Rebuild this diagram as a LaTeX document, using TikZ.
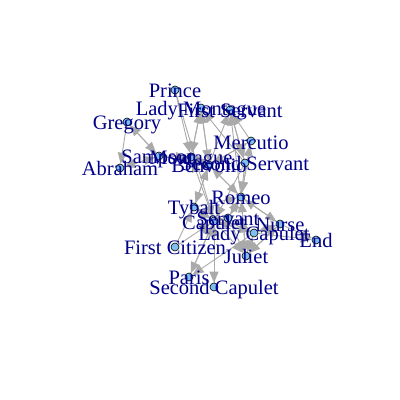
\documentclass[tikz,border=0pt]{standalone}
\usepackage{fontspec}
\setmainfont{Liberation Serif}
\usetikzlibrary{arrows.meta}
\definecolor{edgegray}{RGB}{170,170,170}
\definecolor{vfill}{RGB}{126,192,238}
\definecolor{labblue}{RGB}{0,0,139}
\pgfdeclarelayer{edgelayer}
\pgfsetlayers{edgelayer,main}
\tikzset{
 vtx/.style={circle, draw=black, fill=vfill, line width=0.6pt, minimum size=8pt, inner sep=0pt},
 lab/.style={text=labblue, font=\fontsize{20.5}{24}\selectfont, inner sep=0pt, anchor=base},
 edg/.style={draw=edgegray, line width=0.9pt, -{Triangle[length=11pt,width=9pt]}}
}
\begin{document}
\begin{tikzpicture}[x=1pt,y=1pt]
\useasboundingbox (0,0) rectangle (400,400);
% vertices
\node[vtx] (pr) at (175,310) {};
\node[vtx] (lm) at (201,292) {};
\node[vtx] (fs) at (230,290) {};
\node[vtx] (gr) at (127,278) {};
\node[vtx] (me) at (251,259) {};
\node[vtx] (sa) at (159,244) {};
\node[vtx] (mo) at (191,243) {};
\node[vtx] (ab) at (120,232) {};
\node[vtx] (be) at (209,235) {};
\node[vtx] (ss) at (245,237) {};
\node[vtx] (ro) at (241,203) {};
\node[vtx] (ty) at (194,193) {};
\node[vtx] (ca) at (214,179) {};
\node[vtx] (se) at (228,182) {};
\node[vtx] (nu) at (280,176) {};
\node[vtx] (lc) at (254,167) {};
\node[vtx] (en) at (316,160) {};
\node[vtx] (fc) at (175,153) {};
\node[vtx] (ju) at (246,144) {};
\node[vtx] (pa) at (189,123) {};
\node[vtx] (sc) at (214,113) {};
% edges
\begin{pgfonlayer}{edgelayer}
\fill[white] (0,0) rectangle (400,400);
\foreach \s/\t in {gr/sa, sa/gr, gr/ab, ab/sa, sa/ab, sa/be, be/ty, ty/be, fc/ca, fc/ty,
  ca/lc, lc/ca, ca/mo, mo/lm, lm/mo, pr/mo, pr/ca, mo/be, be/mo, be/lm, lm/be, be/ro, ro/be,
  ca/pa, pa/ca, lc/pa, ca/se, se/ro, ro/se, lc/nu, nu/lc, nu/ju, ju/nu, lc/ju, ju/lc,
  me/ro, ro/me, be/me, me/be, fs/ss, ss/fs, ca/sc, sc/ca, ro/ju, ju/ro, ty/ca, ca/ty, ty/ro,
  nu/en, lc/en, ro/fs, ss/ro, me/fs, ss/ca, ca/ju, se/ju, nu/ro, ro/nu, be/fs, sa/mo, ss/lm,
  se/lc, ty/lc}
  \draw[edg] (\s) -- (\t);
\end{pgfonlayer}
% labels
\node[lab] (lpr) at ([yshift=-8pt]pr.center) {Prince};
\node[lab] (llm) at ([yshift=-8pt]lm.center) {Lady Montague};
\node[lab] (lfs) at ([yshift=-8pt]fs.center) {First Servant};
\node[lab] (lgr) at ([yshift=-8pt]gr.center) {Gregory};
\node[lab] (lme) at ([yshift=-8pt]me.center) {Mercutio};
\node[lab] (lsa) at ([yshift=-8pt]sa.center) {Sampson};
\node[lab] (lmo) at ([yshift=-8pt]mo.center) {Montague};
\node[lab] (lab) at ([yshift=-8pt]ab.center) {Abraham};
\node[lab] (lbe) at ([yshift=-8pt]be.center) {Benvolio};
\node[lab] (lss) at ([yshift=-8pt]ss.center) {Second Servant};
\node[lab] (lro) at ([yshift=-8pt]ro.center) {Romeo};
\node[lab] (lty) at ([yshift=-8pt]ty.center) {Tybalt};
\node[lab] (lca) at ([yshift=-8pt]ca.center) {Capulet};
\node[lab] (lse) at ([yshift=-8pt]se.center) {Servant};
\node[lab] (lnu) at ([yshift=-8pt]nu.center) {Nurse};
\node[lab] (llc) at ([yshift=-8pt]lc.center) {Lady Capulet};
\node[lab] (len) at ([yshift=-8pt]en.center) {End};
\node[lab] (lfc) at ([yshift=-8pt]fc.center) {First Citizen};
\node[lab] (lju) at ([yshift=-8pt]ju.center) {Juliet};
\node[lab] (lpa) at ([yshift=-8pt]pa.center) {Paris};
\node[lab] (lsc) at ([yshift=-8pt]sc.center) {Second Capulet};
\end{tikzpicture}
\end{document}
